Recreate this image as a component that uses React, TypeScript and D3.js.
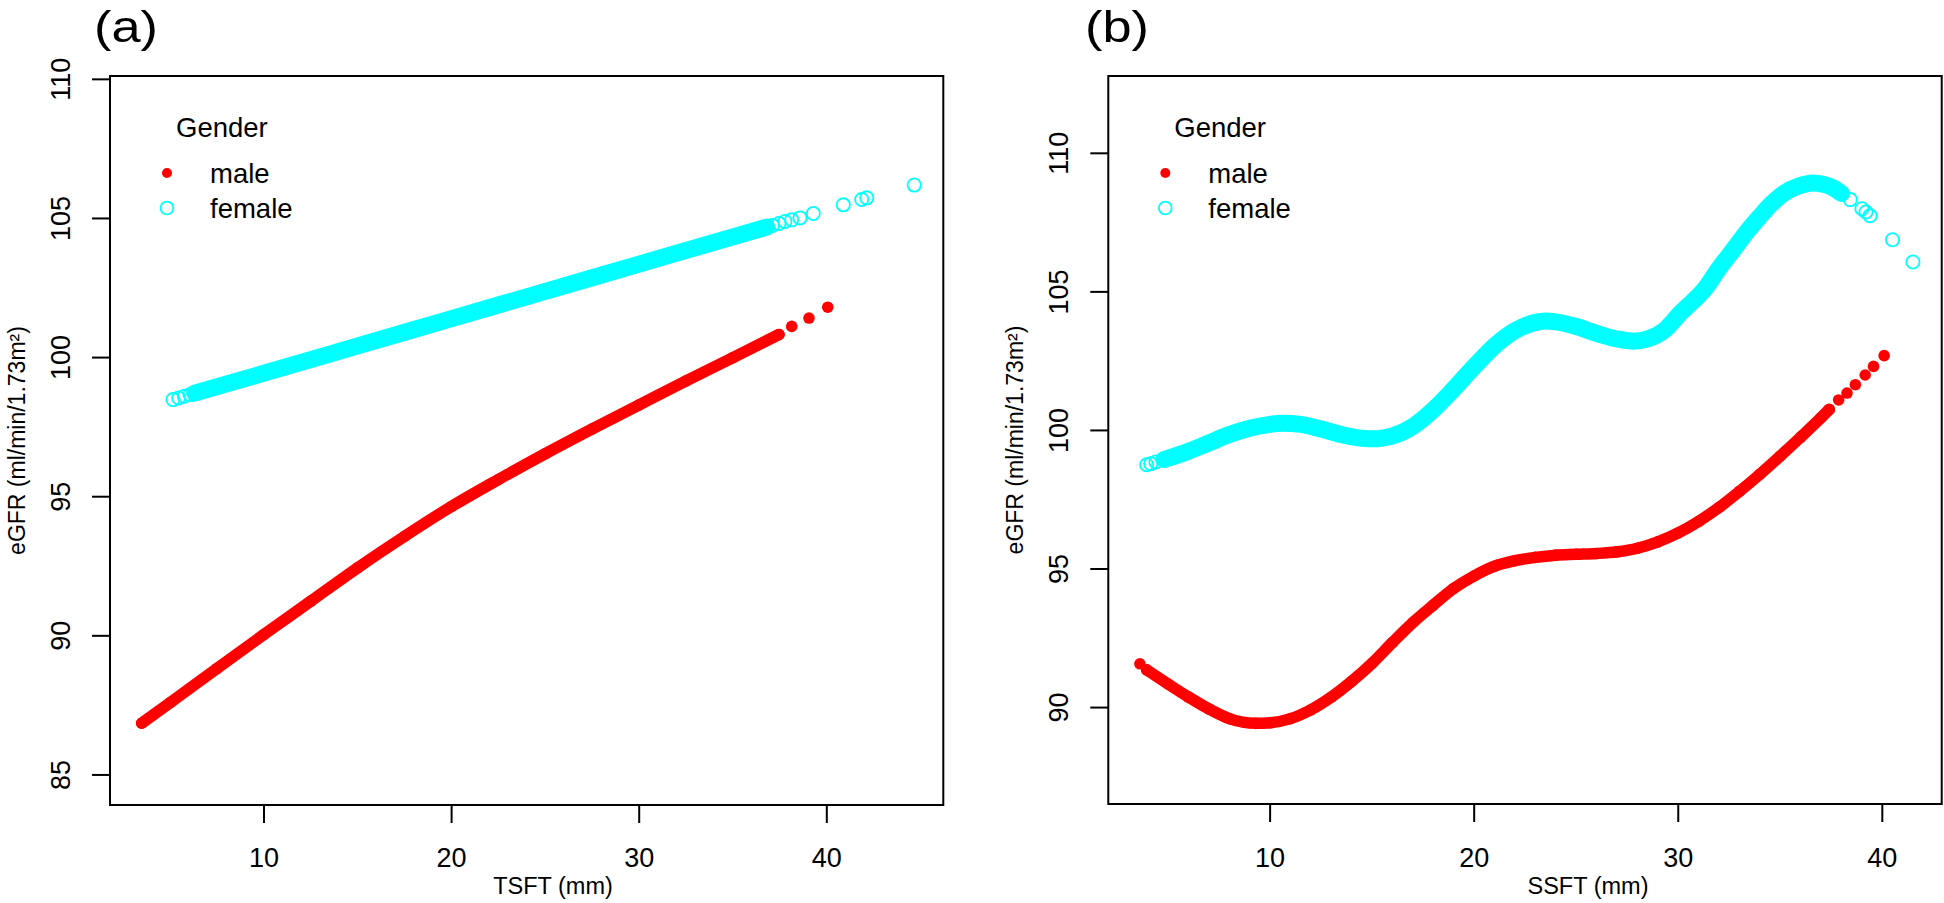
import React from "react";
import * as d3 from "d3";

// ---- data ----
// panel (a): eGFR vs TSFT, dense part of each series plus the loose points at the ends
const maleTsftBand = [
  [3.48, 86.86], [5, 87.6], [7.5, 88.83], [10, 90.05], [12.5, 91.25], [15, 92.45],
  [17.5, 93.58], [20, 94.65], [22.5, 95.62], [25, 96.55], [27.5, 97.44], [30, 98.3],
  [32.5, 99.16], [35, 100.0], [37.45, 100.83],
];
const maleTsftLoose = [[38.13, 101.12], [39.05, 101.42], [40.05, 101.81]];
const femaleTsftBand = [
  [6.3, 98.72], [10, 99.44], [15, 100.42], [20, 101.4], [25, 102.38], [30, 103.36],
  [35, 104.34], [36.8, 104.69],
];
const femaleTsftLoose = [
  [5.15, 98.49], [5.45, 98.55], [5.75, 98.61], [6.05, 98.67], [37.1, 104.75],
  [37.45, 104.82], [37.77, 104.89], [38.13, 104.95], [38.57, 105.02], [39.28, 105.18],
  [40.88, 105.49], [41.86, 105.68], [42.13, 105.74], [44.66, 106.2],
];

// panel (b): eGFR vs SSFT
const maleSsftBand = [
  [3.95, 91.36], [5, 90.85], [6, 90.38], [7, 89.95], [8, 89.6], [9.3, 89.43], [10, 89.45],
  [11, 89.6], [12, 89.92], [13, 90.38], [14, 90.95], [15, 91.6], [16, 92.35], [17, 93.07],
  [18, 93.7], [19, 94.3], [20, 94.75], [21, 95.1], [22, 95.3], [23, 95.42], [24, 95.5],
  [25, 95.53], [26, 95.56], [27, 95.62], [28, 95.75], [29, 95.98], [30, 96.3], [31, 96.72],
  [32, 97.22], [33, 97.8], [34, 98.42], [35, 99.08], [36, 99.76], [37, 100.46], [37.4, 100.76],
];
const maleSsftLoose = [
  [3.62, 91.58], [37.86, 101.1], [38.27, 101.35], [38.68, 101.65], [39.16, 102.0],
  [39.57, 102.31], [40.09, 102.7],
];
const femaleSsftBand = [
  [4.8, 98.95], [6, 99.25], [7, 99.55], [8, 99.85], [9, 100.08], [10, 100.22], [10.6, 100.26],
  [11.5, 100.22], [12.5, 100.05], [13.5, 99.85], [14.5, 99.72], [15.2, 99.7], [16, 99.8],
  [17, 100.15], [18, 100.75], [19, 101.5], [20, 102.3], [21, 103.05], [22, 103.6], [23, 103.9],
  [23.5, 103.95], [24, 103.92], [25, 103.75], [26, 103.5], [27, 103.3], [27.8, 103.22],
  [28.5, 103.3], [29.3, 103.6], [30.1, 104.23], [31.4, 105.2], [32, 105.85], [32.7, 106.52],
  [33.4, 107.2], [34, 107.72], [34.6, 108.2], [35.2, 108.57], [35.9, 108.82], [36.6, 108.93],
  [37.1, 108.88], [37.6, 108.75], [38, 108.55],
];
const femaleSsftLoose = [
  [3.95, 98.76], [4.15, 98.8], [4.4, 98.86], [38.43, 108.33], [39.0, 108.0], [39.2, 107.88],
  [39.4, 107.75], [40.5, 106.88], [41.5, 106.08],
];

const xTicks = [10, 20, 30, 40];
const yTicksA = [85, 90, 95, 100, 105, 110];
const yTicksB = [90, 95, 100, 105, 110];
const legendTitle = "Gender";
const legendLabels = ["male", "female"];
const yTitle = "eGFR (ml/min/1.73m²)";

const RED = "#ff0000";
const CYAN = "#00ffff";
const FONT = "'Liberation Sans', Arial, Helvetica, sans-serif";

type Pt = number[];

function Panel({ box, xDomain, yDomain, yTicks, xTitle, xTitleX, tag, tagX, male, maleLoose, female, femaleLoose }: any) {
  const x = d3.scaleLinear().domain(xDomain).range([box.left, box.right]);
  const y = d3.scaleLinear().domain(yDomain).range([box.bottom, box.top]);
  const line = d3
    .line<Pt>()
    .x((d) => x(d[0]))
    .y((d) => y(d[1]))
    .curve(d3.curveMonotoneX);
  const midY = (box.top + box.bottom) / 2;
  const lx = box.left;

  return (
    <g>
      <text x={tagX} y={42} fontSize={44} textLength={64} lengthAdjust="spacingAndGlyphs" fontFamily={FONT}>
        {tag}
      </text>

      {/* y ticks and labels */}
      {yTicks.map((t: number) => (
        <g key={t} transform={`translate(0,${y(t)})`}>
          <line x1={lx - 18} x2={lx} stroke="#000" strokeWidth={2} />
          <text
            transform={`translate(${lx - 40},0) rotate(-90)`}
            textAnchor="middle"
            fontSize={27}
            fontFamily={FONT}
          >
            {t}
          </text>
        </g>
      ))}
      <text
        transform={`translate(${lx - 85},${midY}) rotate(-90)`}
        textAnchor="middle"
        fontSize={23}
        fontFamily={FONT}
      >
        {yTitle}
      </text>

      {/* x ticks and labels */}
      {xTicks.map((t) => (
        <g key={t} transform={`translate(${x(t)},0)`}>
          <line y1={box.bottom} y2={box.bottom + 18} stroke="#000" strokeWidth={2} />
          <text y={867} textAnchor="middle" fontSize={27} fontFamily={FONT}>{t}</text>
        </g>
      ))}
      <text x={xTitleX} y={894} textAnchor="middle" fontSize={23.5} fontFamily={FONT}>{xTitle}</text>

      {/* female: open circles */}
      <path d={line(female) || ""} fill="none" stroke={CYAN} strokeWidth={17} strokeLinecap="round" />
      {female.concat(femaleLoose).map((d: Pt, i: number) => (
        <circle key={"f" + i} cx={x(d[0])} cy={y(d[1])} r={6.6} fill="none" stroke={CYAN} strokeWidth={1.8} />
      ))}

      {/* male: filled dots */}
      <path d={line(male) || ""} fill="none" stroke={RED} strokeWidth={11.5} strokeLinecap="round" />
      {male.concat(maleLoose).map((d: Pt, i: number) => (
        <circle key={"m" + i} cx={x(d[0])} cy={y(d[1])} r={5.8} fill={RED} />
      ))}

      {/* legend */}
      <text x={lx + 66} y={137} fontSize={27.5} fontFamily={FONT}>{legendTitle}</text>
      <circle cx={lx + 57} cy={173} r={5} fill={RED} />
      <text x={lx + 100} y={183} fontSize={27.5} fontFamily={FONT}>{legendLabels[0]}</text>
      <circle cx={lx + 57} cy={208} r={6.4} fill="none" stroke={CYAN} strokeWidth={1.8} />
      <text x={lx + 100} y={218} fontSize={27.5} fontFamily={FONT}>{legendLabels[1]}</text>

      <rect
        x={box.left}
        y={box.top}
        width={box.right - box.left}
        height={box.bottom - box.top}
        fill="none"
        stroke="#000"
        strokeWidth={2}
      />
    </g>
  );
}

export default function App() {
  return (
    <svg
      width={1944}
      height={903}
      style={{ position: "absolute", left: 0, top: 0, background: "#fff" }}
    >
      <rect width={1944} height={903} fill="#fff" />
      <Panel
        box={{ left: 110, right: 943.3, top: 76, bottom: 805 }}
        xDomain={[1.79, 46.21]}
        yDomain={[83.92, 110.12]}
        yTicks={yTicksA}
        xTitle="TSFT (mm)"
        xTitleX={553}
        tag="(a)"
        tagX={94}
        male={maleTsftBand}
        maleLoose={maleTsftLoose}
        female={femaleTsftBand}
        femaleLoose={femaleTsftLoose}
      />
      <Panel
        box={{ left: 1108.3, right: 1941.7, top: 76, bottom: 804 }}
        xDomain={[2.07, 42.91]}
        yDomain={[86.52, 112.79]}
        yTicks={yTicksB}
        xTitle="SSFT (mm)"
        xTitleX={1588}
        tag="(b)"
        tagX={1085}
        male={maleSsftBand}
        maleLoose={maleSsftLoose}
        female={femaleSsftBand}
        femaleLoose={femaleSsftLoose}
      />
    </svg>
  );
}
